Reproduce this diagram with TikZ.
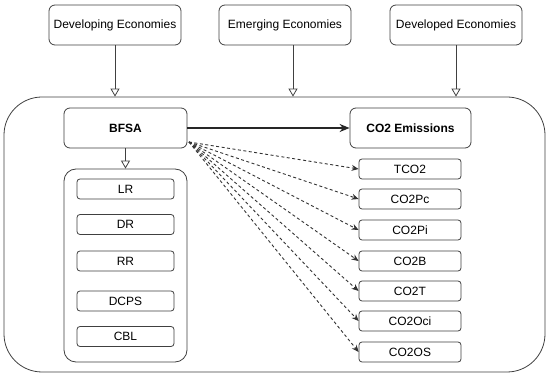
\documentclass[tikz,border=0pt]{standalone}
\usepackage{fontspec}
\setmainfont{Liberation Sans}
\usetikzlibrary{positioning,calc,arrows.meta}

\tikzset{
  box/.style={draw=black!75, line width=0.8pt, rounded corners=6pt, fill=white,
              font=\fontsize{12}{14}\selectfont, inner sep=0pt},
  smallbox/.style={box, rounded corners=3pt, minimum height=20pt},
  openarrow/.style={draw=black!75, line width=0.8pt, -{Triangle[open, length=8pt, width=9pt]}},
  fanarrow/.style={draw=black!80, line width=0.9pt, dash pattern=on 3pt off 2.5pt, -{Stealth[length=7pt, width=6pt]}}
}

\begin{document}
\begin{tikzpicture}[x=1pt, y=-1pt]
\useasboundingbox (0,0) rectangle (550,377);

% top level groups
\node[box, minimum width=132pt, minimum height=40pt] (develop) at (115,25) {Developing Economies};
\node[box, minimum width=132pt, minimum height=40pt] (emerge) at (285,25) {Emerging Economies};
\node[box, minimum width=132pt, minimum height=40pt] (developed) at (456,25) {Developed Economies};

% frame round the model
\node[box, rounded corners=38pt, minimum width=541pt, minimum height=275pt] (frame) at (274.5,234.5) {};

\draw[openarrow] (develop.south) -- (develop.south |- frame.north);
\draw[openarrow] ([xshift=8pt]emerge.south) -- ([xshift=8pt]emerge.south |- frame.north);
\draw[openarrow] (developed.south) -- (developed.south |- frame.north);

% main nodes
\node[box, minimum width=123pt, minimum height=40pt, font=\fontsize{12}{14}\selectfont\bfseries] (bfsa) at (125.5,128) {BFSA};
\node[box, minimum width=121pt, minimum height=40pt, font=\fontsize{12}{14}\selectfont\bfseries] (co2) at (410.5,128) {CO2 Emissions};
\draw[line width=1.4pt, black!85, -{Stealth[length=10pt, width=8pt]}] (bfsa.east) -- (co2.west);

% BFSA indicators
\node[box, rounded corners=12pt, minimum width=123pt, minimum height=193pt] (inner) at (125.5,265.5) {};
\draw[openarrow] (bfsa.south) -- (inner.north);

\node[smallbox, minimum width=97pt] (lr) at (125.5,189) {LR};
\node[smallbox, minimum width=97pt] (dr) at (125.5,224.5) {DR};
\node[smallbox, minimum width=97pt] (rr) at (125.5,261) {RR};
\node[smallbox, minimum width=97pt] (dcps) at (125.5,301) {DCPS};
\node[smallbox, minimum width=97pt] (cbl) at (125.5,336.5) {CBL};

% emission measures
\coordinate (fan) at (189,142);
\foreach \name/\lbl/\yy in {tco/TCO2/169, pc/CO2Pc/199, pi/CO2Pi/230, b/CO2B/261,
                            t/CO2T/291, oci/CO2Oci/321, os/CO2OS/352}{
  \node[smallbox, minimum width=102pt] (\name) at (410,\yy) {\lbl};
  \draw[fanarrow] (fan) -- (\name.west);
}
\end{tikzpicture}
\end{document}
